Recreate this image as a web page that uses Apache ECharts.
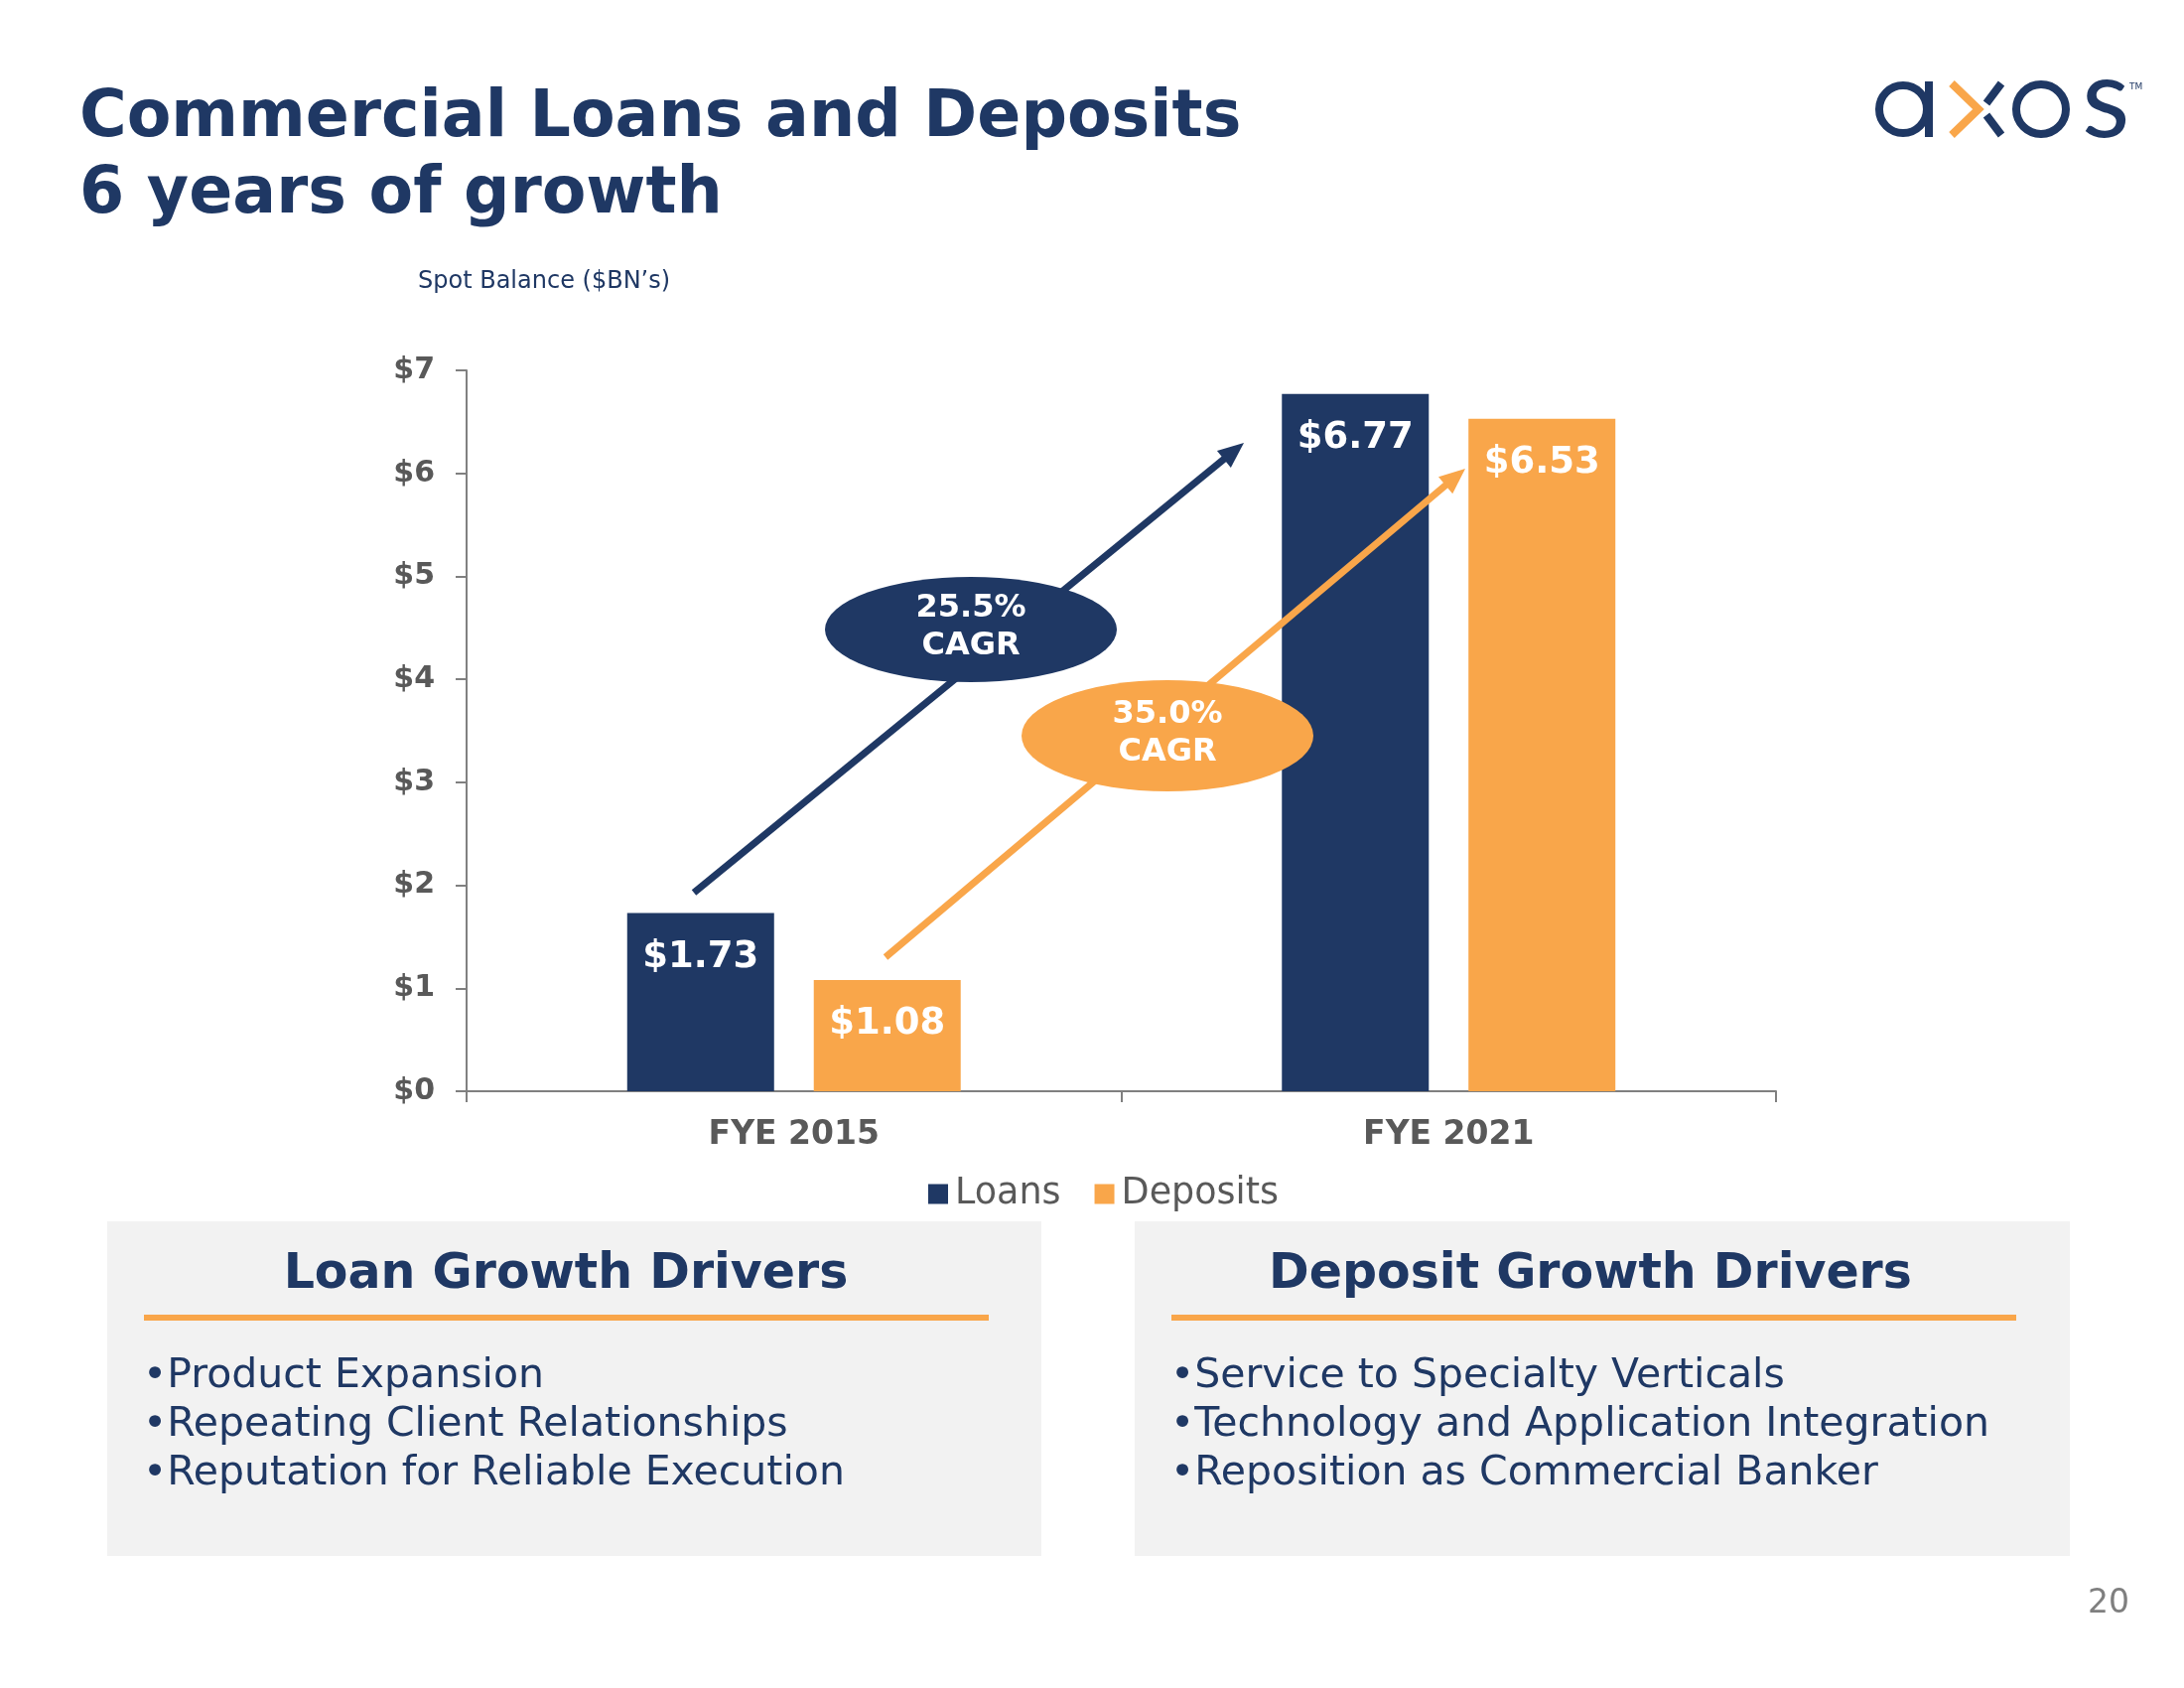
<!DOCTYPE html>
<html><head><meta charset="utf-8">
<script src="https://cdn.jsdelivr.net/npm/echarts@6/dist/echarts.min.js"></script>
<style>html,body{margin:0;padding:0;background:#fff}#c{width:2200px;height:1700px}</style>
</head><body><div id="c"></div>
<script>
const categories = ['FYE 2015', 'FYE 2021'];
const seriesNames = ['Loans', 'Deposits'];
const loans = [1.73, 6.77];
const deposits = [1.08, 6.53];
const cagrLabels = ['25.5%\nCAGR', '35.0%\nCAGR'];
const titleLines = ['Commercial Loans and Deposits', '6 years of growth'];
const loanDrivers = ['Product Expansion', 'Repeating Client Relationships', 'Reputation for Reliable Execution'];
const depositDrivers = ['Service to Specialty Verticals', 'Technology and Application Integration', 'Reposition as Commercial Banker'];

const NAVY = '#1F3864', ORANGE = '#F9A64A', GRAY = '#595959';
const FONT = 'DejaVu Sans';

function arrow(x0, y0, x1, y1, color) {
  const dx = x1 - x0, dy = y1 - y0, L = Math.hypot(dx, dy), ux = dx / L, uy = dy / L;
  const hl = 26, hw = 11;
  const bx = x1 - ux * hl, by = y1 - uy * hl;
  return [
    {type: 'line', z: 10, shape: {x1: x0, y1: y0, x2: bx + ux * 3, y2: by + uy * 3}, style: {stroke: color, lineWidth: 7}},
    {type: 'polygon', z: 10, shape: {points: [[x1, y1], [bx - uy * hw, by + ux * hw], [bx + uy * hw, by - ux * hw]]}, style: {fill: color}}
  ];
}
function ellipse(cx, cy, rx, ry, color, text) {
  return [
    {type: 'circle', z: 11, x: cx, y: cy, scaleY: ry / rx, shape: {cx: 0, cy: 0, r: rx}, style: {fill: color}},
    {type: 'text', z: 12, x: cx, y: cy - 2, style: {text: text, fill: '#fff', font: 'bold 32px "DejaVu Sans"', textAlign: 'center', textVerticalAlign: 'middle', lineHeight: 38}}
  ];
}
function box(x, y, w, h, header, items, hx) {
  const els = [
    {type: 'rect', z: 1, shape: {x: x, y: y, width: w, height: h}, style: {fill: '#F2F2F2'}},
    {type: 'text', z: 2, x: hx, y: 1284, style: {text: header, fill: NAVY, font: 'bold 49px "DejaVu Sans"', textAlign: 'center', textVerticalAlign: 'middle'}},
    {type: 'line', z: 2, shape: {x1: x + 37, y1: 1327, x2: x + 888, y2: 1327}, style: {stroke: ORANGE, lineWidth: 6}}
  ];
  items.forEach((t, i) => {
    els.push({type: 'text', z: 2, x: x + 36, y: 1386 + i * 49, style: {text: '\u2022' + t, fill: NAVY, font: '41px "DejaVu Sans"', textAlign: 'left', textVerticalAlign: 'middle'}});
  });
  return els;
}

const chart = echarts.init(document.getElementById('c'), null, {renderer: 'canvas'});

let graphics = [];
graphics.push({type: 'text', x: 80, y: 120, style: {text: titleLines[0], fill: NAVY, font: 'bold 65px "DejaVu Sans"', textVerticalAlign: 'middle'}});
graphics.push({type: 'text', x: 80, y: 197, style: {text: titleLines[1], fill: NAVY, font: 'bold 65px "DejaVu Sans"', textVerticalAlign: 'middle'}});
graphics.push({type: 'text', x: 421, y: 284, style: {text: 'Spot Balance ($BN\u2019s)', fill: NAVY, font: '24px "DejaVu Sans"', textVerticalAlign: 'middle'}});
// logo
graphics.push({type: 'circle', shape: {cx: 1917, cy: 110, r: 24}, style: {fill: null, stroke: NAVY, lineWidth: 8}});
graphics.push({type: 'line', shape: {x1: 1943, y1: 82, x2: 1943, y2: 138}, style: {stroke: NAVY, lineWidth: 8}});
graphics.push({type: 'polyline', shape: {points: [[1966, 84], [1993, 110], [1966, 136]]}, style: {stroke: ORANGE, lineWidth: 8, fill: null}});
graphics.push({type: 'line', shape: {x1: 2016, y1: 84, x2: 2001, y2: 104}, style: {stroke: NAVY, lineWidth: 8}});
graphics.push({type: 'line', shape: {x1: 2001, y1: 116, x2: 2016, y2: 136}, style: {stroke: NAVY, lineWidth: 8}});
graphics.push({type: 'circle', shape: {cx: 2056, cy: 110, r: 25}, style: {fill: null, stroke: NAVY, lineWidth: 8}});
graphics.push({type: 'text', x: 2097, y: 102, style: {text: 's', fill: NAVY, font: '112px Lato', textVerticalAlign: 'middle'}});
graphics.push({type: 'text', x: 2145, y: 88, style: {text: 'TM', fill: NAVY, font: '9px "DejaVu Sans"', textVerticalAlign: 'middle'}});
// annotations
graphics = graphics.concat(arrow(699, 899, 1253, 446, NAVY));
graphics = graphics.concat(arrow(892, 964, 1476, 472, ORANGE));
graphics = graphics.concat(ellipse(978, 634, 147, 53, NAVY, cagrLabels[0]));
graphics = graphics.concat(ellipse(1176, 741, 147, 56, ORANGE, cagrLabels[1]));
// boxes
graphics = graphics.concat(box(108, 1230, 941, 337, 'Loan Growth Drivers', loanDrivers, 570));
graphics = graphics.concat(box(1143, 1230, 942, 337, 'Deposit Growth Drivers', depositDrivers, 1602));
graphics.push({type: 'text', x: 2124, y: 1615, style: {text: '20', fill: '#7F7F7F', font: '33px "DejaVu Sans"', textAlign: 'center', textVerticalAlign: 'middle'}});

const barLabel = {show: true, position: 'insideTop', distance: 26, color: '#fff', fontFamily: FONT, fontWeight: 'bold', fontSize: 37, formatter: p => '$' + p.value.toFixed(2)};

chart.setOption({
  animation: false,
  backgroundColor: '#fff',
  textStyle: {fontFamily: FONT},
  grid: {left: 470, top: 373, width: 1319, height: 726, containLabel: false},
  legend: {
    data: seriesNames, left: 930, top: 1179, icon: 'rect', itemWidth: 20, itemHeight: 20, itemGap: 34,
    textStyle: {color: GRAY, fontSize: 36.5, fontFamily: FONT, padding: [0, 0, 0, 2]}
  },
  xAxis: {
    type: 'category', data: categories,
    axisLine: {lineStyle: {color: '#808080', width: 2}},
    axisTick: {show: true, length: 11, lineStyle: {color: '#808080', width: 2}},
    axisLabel: {color: GRAY, fontWeight: 'bold', fontSize: 33, fontFamily: FONT, margin: 28}
  },
  yAxis: {
    type: 'value', min: 0, max: 7, interval: 1,
    axisLine: {show: true, lineStyle: {color: '#808080', width: 2}},
    axisTick: {show: true, length: 11, lineStyle: {color: '#808080', width: 2}},
    splitLine: {show: false},
    axisLabel: {color: GRAY, fontWeight: 'bold', fontSize: 30, fontFamily: FONT, margin: 32, formatter: v => '$' + v}
  },
  series: [
    {name: seriesNames[0], type: 'bar', data: loans, barWidth: 148, barGap: '27%', itemStyle: {color: NAVY}, label: barLabel},
    {name: seriesNames[1], type: 'bar', data: deposits, barWidth: 148, barGap: '27%', itemStyle: {color: ORANGE}, label: barLabel}
  ],
  graphic: graphics
});
</script></body></html>
